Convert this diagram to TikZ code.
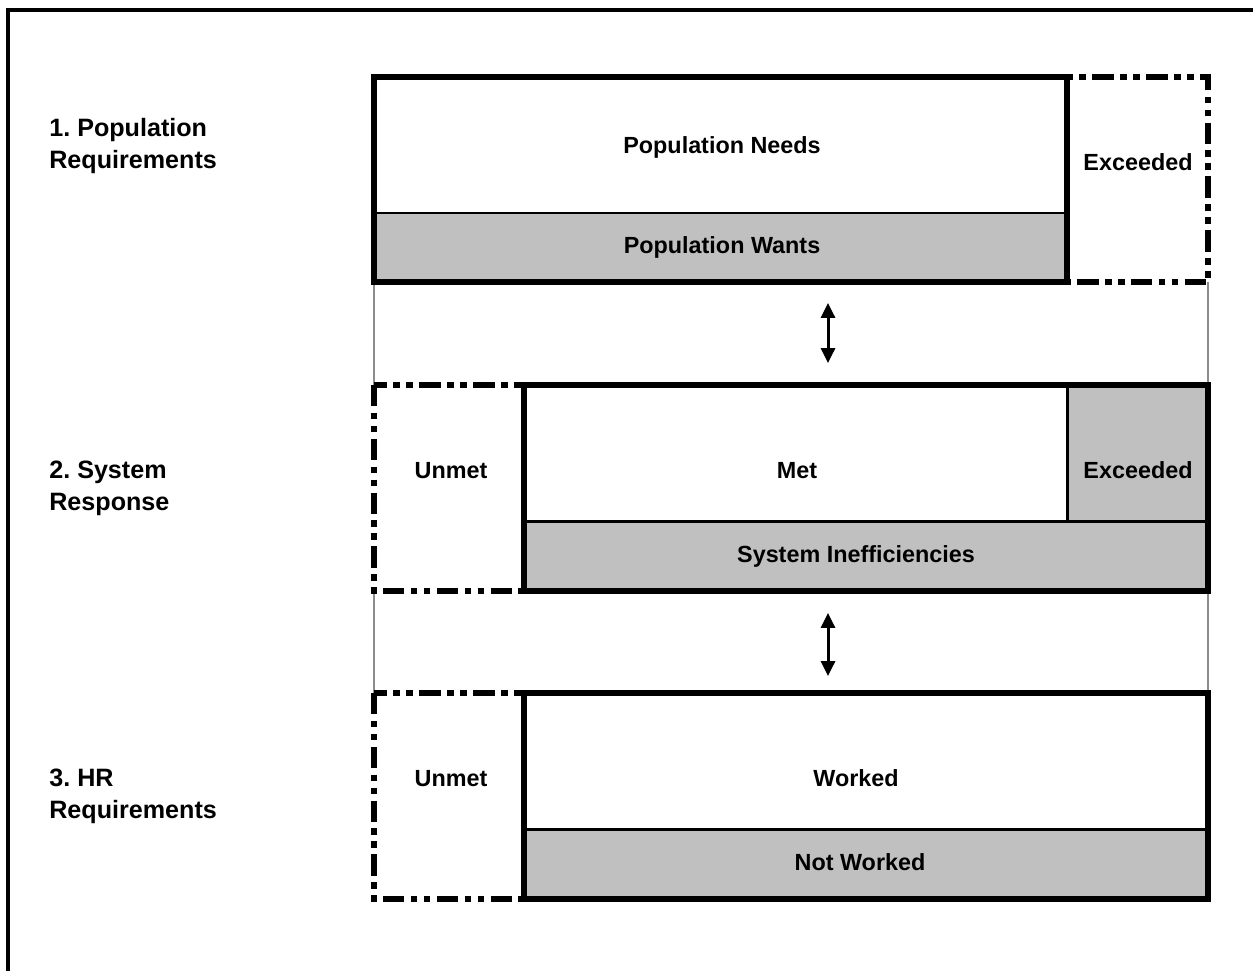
\documentclass[tikz,border=0pt]{standalone}
\usepackage{fontspec}
\setmainfont{Liberation Sans}
\usetikzlibrary{arrows.meta,positioning}
\definecolor{cellgray}{HTML}{C0C0C0}
\definecolor{linkgray}{HTML}{8C8C8C}
\frenchspacing

\begin{document}
\begin{tikzpicture}[x=0.02cm,y=-0.02cm,
    cell/.style={rectangle,anchor=north west,inner sep=0pt,outer sep=0pt},
    txt/.style={font=\bfseries\fontsize{13.3}{15}\selectfont,inner sep=0pt,text height=0.72em,text depth=0pt},
    side/.style={font=\bfseries\fontsize{14.3}{18.1}\selectfont,align=left,inner sep=0pt,anchor=base west},
    boxline/.style={line width=3.2pt},
    sepline/.style={line width=1.7pt},
    dashline/.style={line width=3.2pt,dash pattern=on 12.2pt off 3.6pt on 3.8pt off 3.6pt on 3.8pt off 3.6pt},
    link/.style={linkgray,line width=1.5pt},
    updown/.style={{Triangle[length=8.5pt,width=8pt]}-{Triangle[length=8.5pt,width=8pt]},line width=1.7pt}]
    \useasboundingbox (0,0) rectangle (1253,970);
    \draw[line width=1.9pt] (8,10) rectangle (1290,1000);
    % cells
    \foreach \name/\x/\y/\w/\h/\col in {needs/374/77/693/136/white, wants/374/213/693/69/cellgray, exc1/1067/77/141/205/white,
        unmet2/374/385/150/206/white, met/524/385/543/136/white, exc2/1067/385/141/136/cellgray, ineff/524/521/684/70/cellgray,
        unmet3/374/693/150/206/white, worked/524/693/684/136/white, notw/524/829/684/70/cellgray}
    	\node[cell,fill=\col,minimum width=\w*0.02cm,minimum height=\h*0.02cm] (\name) at (\x,\y) {};
    % links between the rows
    \draw[link] (wants.south west) -- (unmet2.north west);
    \draw[link] (exc1.south east) -- (exc2.north east);
    \draw[link] (unmet2.south west) -- (unmet3.north west);
    \draw[link] (ineff.south east) -- (worked.north east);
    % dashed parts
    \foreach \name in {exc1,unmet2,unmet3}
    	\draw[dashline] (\name.north west) rectangle (\name.south east);
    % row 1
    \draw[boxline] (needs.north west) rectangle (wants.south east);
    \draw[sepline] (needs.south west) -- (needs.south east);
    % row 2
    \draw[boxline] (met.north west) rectangle (ineff.south east);
    \draw[sepline] (met.south west) -- (exc2.south east);
    \draw[sepline] (met.north east) -- (met.south east);
    % row 3
    \draw[boxline] (worked.north west) rectangle (notw.south east);
    \draw[sepline] (worked.south west) -- (worked.south east);
    % texts
    \foreach \name/\tx/\ty/\t in {needs/722/147/Population Needs, wants/722/247/Population Wants, exc1/1138/164/Exceeded,
        unmet2/451/472/Unmet, met/797/472/Met, exc2/1138/472/Exceeded, ineff/856/556/System Inefficiencies,
        unmet3/451/780/Unmet, worked/856/780/Worked, notw/860/864/Not Worked}
    	\node[txt] (\name-t) at (\tx,\ty) {\t};
    \node[side] (req1) at (49,168) {1. Population\\Requirements};
    \node[side] (req2) at (49,510) {2. System\\Response};
    \node[side] (req3) at (49,818) {3. HR\\Requirements};
    % arrows
    \coordinate (axis) at (828,0);
    \draw[updown,shorten <=0.42cm,shorten >=0.44cm] (wants.south -| axis) -- (met.north -| axis);
    \draw[updown,shorten <=0.44cm,shorten >=0.34cm] (ineff.south -| axis) -- (worked.north -| axis);
\end{tikzpicture}
\end{document}
